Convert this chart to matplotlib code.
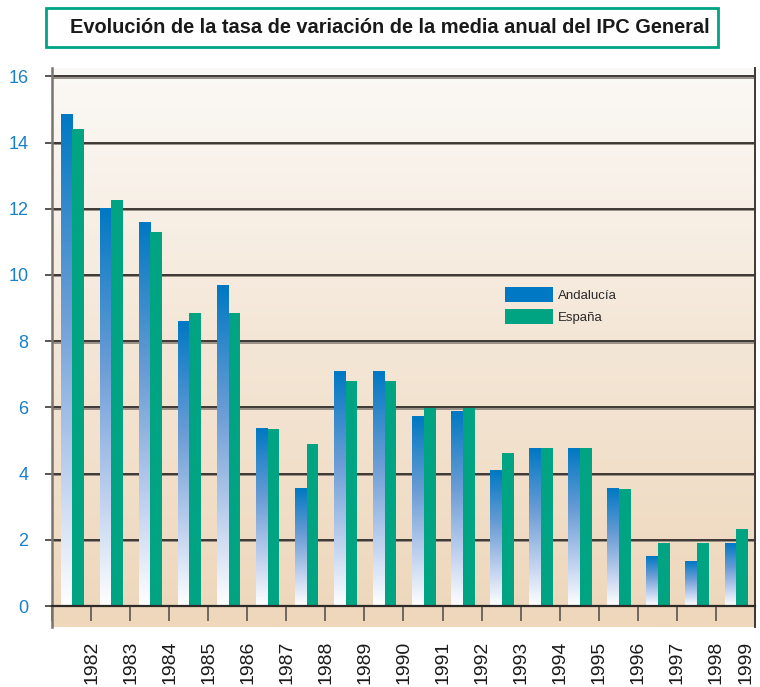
import numpy as np
import matplotlib
matplotlib.use("Agg")
import matplotlib.pyplot as plt
from matplotlib.colors import LinearSegmentedColormap
from matplotlib.patches import Patch, Rectangle
from matplotlib.transforms import ScaledTranslation

plt.rcParams['font.family'] = ['Liberation Sans', 'DejaVu Sans']

years = ['1982', '1983', '1984', '1985', '1986', '1987', '1988', '1989', '1990',
         '1991', '1992', '1993', '1994', '1995', '1996', '1997', '1998', '1999']
andalucia = [14.83, 12.0, 11.57, 8.58, 9.67, 5.35, 3.55, 7.07, 7.07,
             5.71, 5.86, 4.08, 4.77, 4.77, 3.55, 1.5, 1.35, 1.9]
espana = [14.4, 12.25, 11.3, 8.85, 8.85, 5.35, 4.9, 6.8, 6.8,
          5.98, 5.98, 4.62, 4.77, 4.77, 3.55, 1.9, 1.9, 2.33]
yticks = [0, 2, 4, 6, 8, 10, 12, 14, 16]
title = 'Evolución de la tasa de variación de la media anual del IPC General'

BLUE = '#0078c3'
GREEN = '#00a382'

fig = plt.figure(figsize=(7.6, 6.87), dpi=100)
fig.patch.set_facecolor('white')
ax = fig.add_axes([52/760, 60/687, (755-52)/760, (619-60)/687])

n = len(years)
x = np.arange(n)
ymin, ymax = -0.63, 16.25
xmin, xmax = -0.5, n - 0.5

# background gradient
bg_cmap = LinearSegmentedColormap.from_list('bg', ['#eed7bb', '#f4e6d6', '#fbf9f6'])
grad = np.linspace(0, 1, 256).reshape(-1, 1)
ax.imshow(grad, extent=(xmin, xmax, ymin, ymax), origin='lower', cmap=bg_cmap,
          aspect='auto', zorder=0)

# gridlines
for yv in yticks[1:]:
    ax.axhline(yv - 0.04, color='#8a8078', lw=1.2, zorder=1)
    ax.axhline(yv, color='#3e3834', lw=1.4, zorder=1)

bw = 0.30
bar_cmap = LinearSegmentedColormap.from_list(
    'bar', [(0, '#ffffff'), (0.25, '#c4d4f0'), (0.6, '#6c9dd6'), (1, BLUE)])
for i in range(n):
    x0 = x[i] - 0.28
    ax.imshow(grad, extent=(x0, x0 + bw, 0, andalucia[i]), origin='lower',
              cmap=bar_cmap, aspect='auto', zorder=2)
ax.bar(x + 0.02, espana, width=bw, align='edge', color=GREEN, zorder=2)

ax.set_xlim(xmin, xmax)
ax.set_ylim(ymin, ymax)

# spines
ax.spines['top'].set_visible(False)
ax.spines['left'].set_color('#7a7470')
ax.spines['left'].set_linewidth(1.8)
ax.spines['right'].set_color('#3e3834')
ax.spines['right'].set_linewidth(1.4)
ax.spines['bottom'].set_position(('data', 0))
ax.spines['bottom'].set_color('#2e2a28')
ax.spines['bottom'].set_linewidth(1.6)
ax.spines['bottom'].set_zorder(3)

ax.set_yticks(yticks)
ax.set_yticklabels([str(v) for v in yticks])
ax.tick_params(axis='y', length=5, width=1.2, color='#3e3834', labelcolor='#1a80c8',
               labelsize=13, pad=12)

ax.set_xticks(x)
ax.set_xticklabels(years, rotation=90, va='top', ha='center')
ax.set_xticks(np.arange(n + 1) - 0.5, minor=True)
ax.tick_params(axis='x', which='major', length=0, labelsize=14, pad=25,
               labelcolor='#1a1a1a')
ax.tick_params(axis='x', which='minor', length=11, width=1.2, color='#5a5450',
               direction='out')
labels = ax.get_xticklabels()
for k, lab in enumerate(labels):
    dx = 0.20 if k < len(labels) - 1 else 0.11
    lab.set_transform(lab.get_transform() + ScaledTranslation(dx, 0, fig.dpi_scale_trans))

# legend
handles = [Patch(facecolor=BLUE, edgecolor='none', label='Andalucía'),
           Patch(facecolor=GREEN, edgecolor='none', label='España')]
leg = ax.legend(handles=handles, loc='upper left',
                bbox_to_anchor=((503 - 52) / 703 - 0.012, (619 - 268) / 559),
                frameon=False, fontsize=9.5, handlelength=3.6, handleheight=1.4,
                handletextpad=0.4, labelspacing=0.55, borderpad=0.3)
for t in leg.get_texts():
    t.set_color('#2a2a2a')

# title box
fig.patches.append(Rectangle((46/760, 1 - 47/687), (718-46)/760, 39/687,
                             transform=fig.transFigure, facecolor='white',
                             edgecolor=GREEN, lw=2.0))
fig.text(390/760, 1 - 27.5/687, title, ha='center', va='center',
         fontsize=14.4, fontweight='bold', color='#1a1a1a')

fig.savefig('out.png', dpi=100)
